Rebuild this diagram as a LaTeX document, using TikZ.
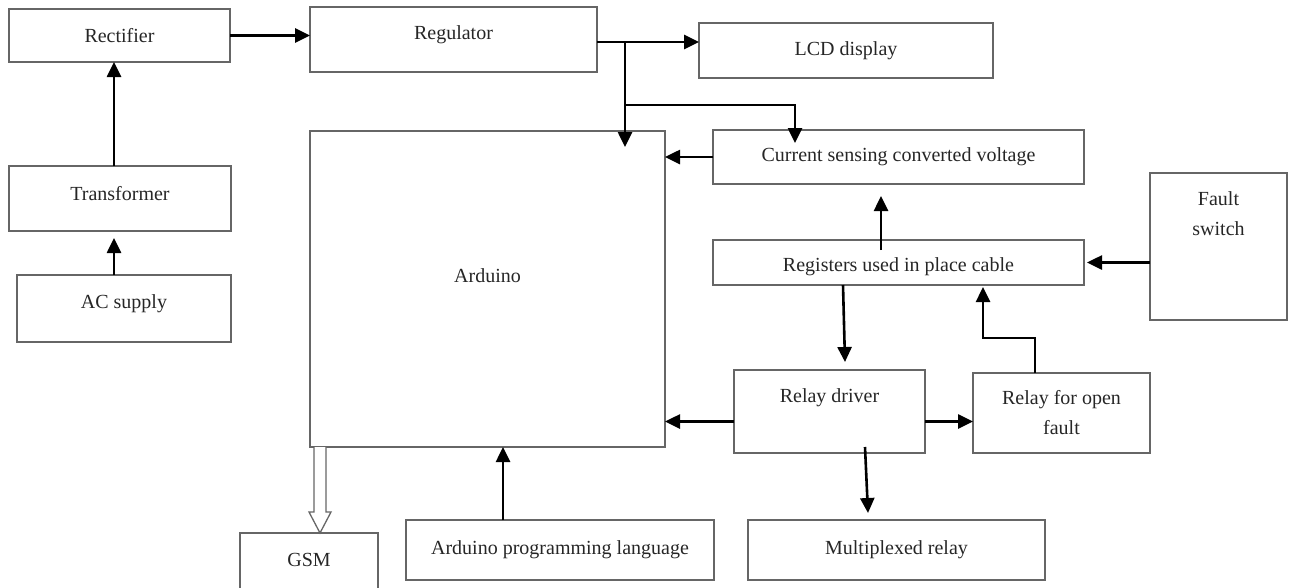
\documentclass[tikz,border=0pt]{standalone}
\usepackage{fontspec}
\setmainfont{Liberation Serif}
\usetikzlibrary{arrows.meta}
\tikzstyle{Block}=[draw=black!60,line width=1.3pt,inner sep=0pt,outer sep=0pt,align=center]
\tikzstyle{Link}=[-{Triangle[length=15pt,width=14pt]},line width=2.6pt]
\tikzstyle{Hollow}=[draw=black!60,line width=1.3pt,fill=white,line join=miter]
\begin{document}
\begin{tikzpicture}[x=1pt,y=-1pt,font=\fontsize{20}{30}\selectfont,text=black!85]
        \useasboundingbox(0,0)rectangle(1289,587);
        % blocks
        \node[Block,minimum width=221pt,minimum height=53pt](rect)at(119.5,35.5){Rectifier};
        \node[Block,minimum width=287pt,minimum height=65pt,label={[yshift=4.5pt]center:Regulator}](reg)at(453.5,39.5){};
        \node[Block,minimum width=294pt,minimum height=55pt](lcd)at(846,50.5){LCD display};
        \node[Block,minimum width=355pt,minimum height=316pt,label={[yshift=13pt]center:Arduino}](ard)at(487.5,289){};
        \node[Block,minimum width=371pt,minimum height=54pt](cur)at(898.5,157){Current sensing converted voltage};
        \node[Block,minimum width=137pt,minimum height=147pt,label={[yshift=32.5pt,align=center]center:Fault\\switch}](flt)at(1218.5,246.5){};
        \node[Block,minimum width=222pt,minimum height=65pt,label={[yshift=5pt]center:Transformer}](trans)at(120,198.5){};
        \node[Block,minimum width=214pt,minimum height=67pt,label={[yshift=5pt]center:AC supply}](ac)at(124,308.5){};
        \node[Block,minimum width=371pt,minimum height=45pt,label={[yshift=-4.5pt]center:Registers used in place cable}](regs)at(898.5,262.5){};
        \node[Block,minimum width=191pt,minimum height=83pt,label={[yshift=13.5pt]center:Relay driver}](rdrv)at(829.5,411.5){};
        \node[Block,minimum width=177pt,minimum height=80pt](rop)at(1061.5,413){Relay for open\\fault};
        \node[Block,minimum width=138pt,minimum height=64pt,label={[yshift=5pt]center:GSM}](gsm)at(309,565){};
        \node[Block,minimum width=308pt,minimum height=60pt](apl)at(560,550){Arduino programming language};
        \node[Block,minimum width=297pt,minimum height=60pt](mux)at(896.5,550){Multiplexed relay};
        % junctions
        \coordinate(j1)at([xshift=28pt,yshift=-2.5pt]reg.east);
        \coordinate(j2)at([yshift=-63pt]j1);
        \coordinate(rd)at([yshift=-10pt]rdrv.west);
        \coordinate(re)at([yshift=-10pt]rdrv.east);
        \coordinate(g1)at([xshift=-167.5pt]ard.south);
        \coordinate(g2)at([xshift=11pt]gsm.north);
        % links
        \draw[Link](rect.east)--(reg.west |- rect.east);
        \draw[Link]([xshift=-6pt]trans.north)--([xshift=-5.5pt]rect.south);
        \draw[Link]([xshift=-10pt]ac.north)--([xshift=-6pt,yshift=-7pt]trans.south);
        \draw[Link]([yshift=-2.5pt]reg.east)--(j1 -| lcd.west);
        \draw[Link,shorten >=-16pt](j1)--(j1 |- ard.north);
        \draw[Link,shorten >=-13pt](j2)-|([xshift=-103.5pt]cur.north);
        \draw[Link](cur.west)--(ard.east |- cur.west);
        \draw[Link]([xshift=-17.5pt,yshift=-10pt]regs.north)--([xshift=-17.5pt,yshift=-12pt]cur.south);
        \draw[Link](flt.west |- regs.east)--([xshift=3pt]regs.east);
        \draw[Link]([xshift=-55.5pt]regs.south)--([xshift=15.5pt,yshift=8pt]rdrv.north);
        \draw[Link]([xshift=-26.5pt]rop.north)--++(0,-35)-|([xshift=84.5pt,yshift=-2pt]regs.south);
        \draw[Link](rd)--(rd -| ard.east);
        \draw[Link](re)--(re -| rop.west);
        \draw[Link]([xshift=35.5pt,yshift=6pt]rdrv.south)--([xshift=-28.5pt,yshift=7pt]mux.north);
        \draw[Link]([xshift=-57pt]apl.north)--([xshift=15.5pt]ard.south);
        \draw[Hollow]([xshift=-6pt]g1)--([xshift=-6pt,yshift=21pt]g2)--([xshift=-11pt,yshift=21pt]g2)
            --(g2)--([xshift=11pt,yshift=21pt]g2)--([xshift=6pt,yshift=21pt]g2)--([xshift=6pt]g1);
    \end{tikzpicture}
\end{document}
